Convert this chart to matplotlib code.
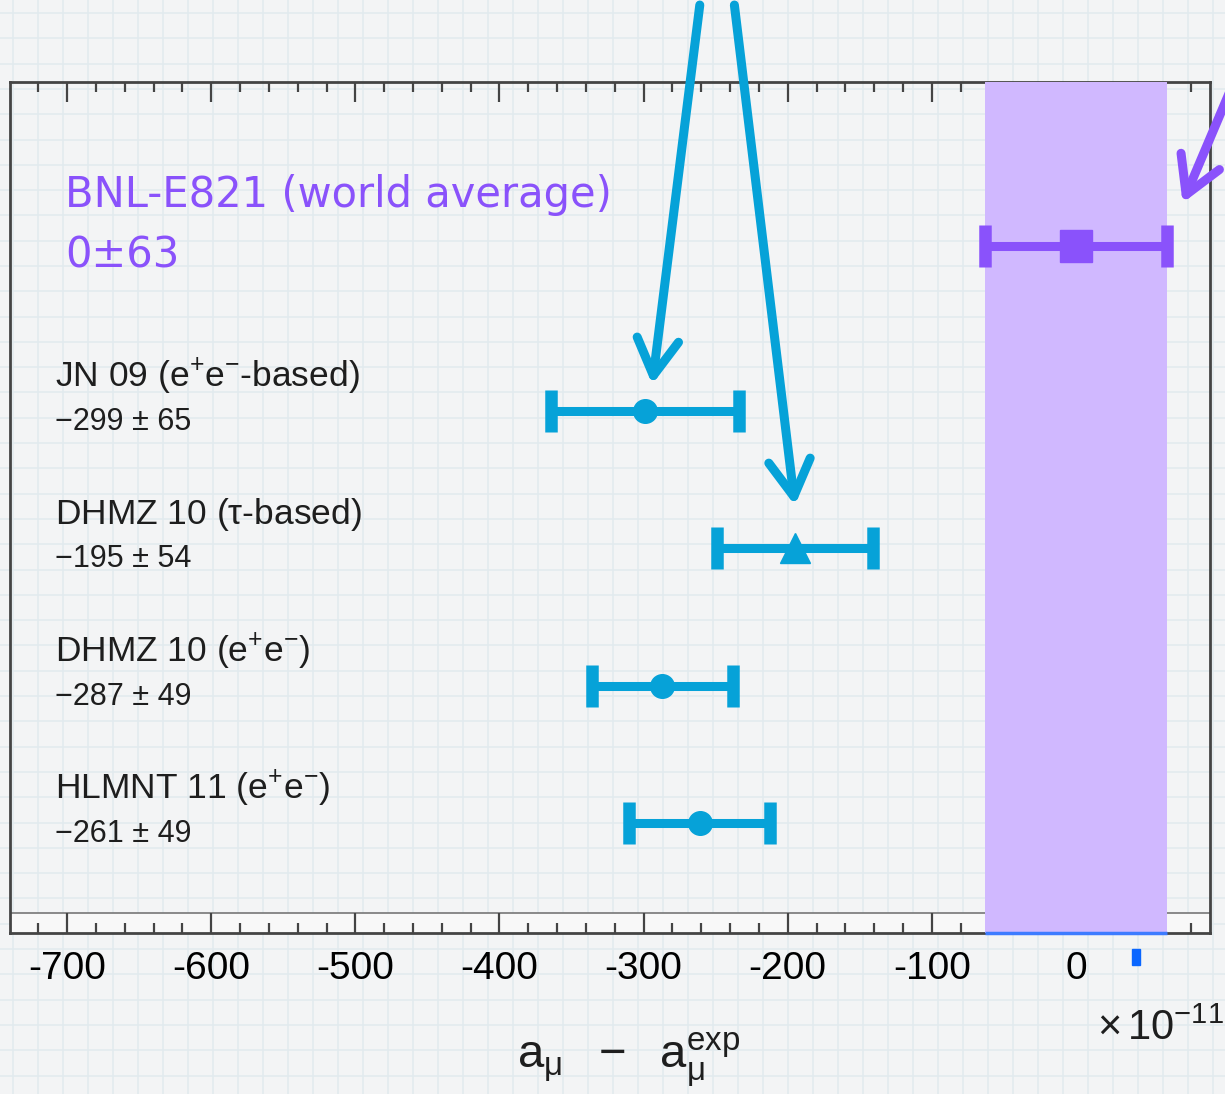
import numpy as np
import matplotlib
matplotlib.use('Agg')
import matplotlib.pyplot as plt
from matplotlib.patches import Rectangle
from matplotlib.ticker import MultipleLocator

plt.rcParams['font.family'] = ['Liberation Sans', 'DejaVu Sans']
plt.rcParams['mathtext.fontset'] = 'custom'
plt.rcParams['mathtext.rm'] = 'Liberation Sans'
plt.rcParams['mathtext.it'] = 'Liberation Sans'
plt.rcParams['mathtext.bf'] = 'Liberation Sans:bold'

# Data (units of 1e-11)
names = ['BNL-E821 (world average)', 'JN 09 (e$^{+}$e$^{-}$-based)',
         'DHMZ 10 ($\\tau$-based)', 'DHMZ 10 (e$^{+}$e$^{-}$)',
         'HLMNT 11 (e$^{+}$e$^{-}$)']
values = [0, -299, -195, -287, -261]
errors = [63, 65, 54, 49, 49]
value_labels = ['0\u00b163', '\u2212299 \u00b1 65', '\u2212195 \u00b1 54',
                '\u2212287 \u00b1 49', '\u2212261 \u00b1 49']
markers = ['s', 'o', '^', 'o', 'o']
rows = [5.2, 4, 3, 2, 1]

blue = '#06a2d8'
purple = '#8a52fb'
band = '#d0b8ff'

fig = plt.figure(figsize=(12.25, 10.94), dpi=100)
fig.patch.set_facecolor('#f3f4f5')

# grid paper background
bg = fig.add_axes([0, 0, 1, 1], zorder=-10)
bg.set_xlim(0, 1225)
bg.set_ylim(1094, 0)
bg.axis('off')
for gx in np.arange(13, 1225, 25):
    bg.axvline(gx, color='#e2eaee', lw=1.1)
for gy in np.arange(13, 1094, 25.3):
    bg.axhline(gy, color='#e2eaee', lw=1.1)

ax = fig.add_axes([10 / 1225, 161 / 1094, 1200 / 1225, 851 / 1094])
ax.set_facecolor('none')
ax.set_xlim(-739.6, 93)
ax.set_ylim(0.2, 6.39)

# world average band
lo, hi = values[0] - errors[0], values[0] + errors[0]
ax.axvspan(lo, hi, color=band, zorder=3, lw=0)
ax.plot([lo, hi], [0.2, 0.2], color='#3d7bff', lw=2.5, zorder=5, clip_on=False,
        solid_capstyle='butt')

# bottom strip
ax.axhspan(0.2, 0.345, color='#f8f8f8', zorder=0.5, lw=0)
ax.axhline(0.345, color='#777777', lw=1.2, zorder=0.6)

for i, (v, e, m, r) in enumerate(zip(values, errors, markers, rows)):
    c = purple if i == 0 else blue
    ms = 23 if m == 's' else (21 if m == '^' else 17)
    ax.errorbar(v, r, xerr=e, fmt=m, color=c, ms=ms, elinewidth=6.5,
                capsize=15, capthick=9, zorder=6, clip_on=False)

ytr = ax.get_yaxis_transform()
for i, (nm, vl, r) in enumerate(zip(names, value_labels, rows)):
    if i == 0:
        ax.text(0.0458, r + 0.37, nm, transform=ytr, ha='left', va='center',
                fontsize=30, color=purple, family='DejaVu Sans')
        ax.text(0.0458, r - 0.07, vl, transform=ytr, ha='left', va='center',
                fontsize=30, color=purple, family='DejaVu Sans')
    else:
        ax.text(0.0375, r + 0.245, nm, transform=ytr, ha='left', va='center',
                fontsize=25.5, color='#1e1e1e')
        ax.text(0.0375, r - 0.08, vl, transform=ytr, ha='left', va='center',
                fontsize=22, color='#1e1e1e')

# ticks
ax.xaxis.set_major_locator(MultipleLocator(100))
ax.xaxis.set_minor_locator(MultipleLocator(20))
ax.set_yticks([])
ax.tick_params(axis='x', which='both', direction='in', top=True, bottom=True,
               color='#444444', width=1.6)
ax.tick_params(axis='x', which='major', length=14.5, labelsize=28, pad=13)
ax.tick_params(axis='x', which='minor', length=7.5)
ax.set_xticks(np.arange(-700, 1, 100))
ax.set_xticklabels([str(t) for t in range(-700, 1, 100)])
for s in ax.spines.values():
    s.set_color('#444444')
    s.set_linewidth(2)

# hand-drawn arrows
hd = dict(arrowstyle='->,head_length=1.3,head_width=0.75', lw=6.5, color=blue,
          mutation_scale=20, shrinkA=0, shrinkB=0)
ax.annotate('', xy=(-294, 4.19), xytext=(-261, 6.95), arrowprops=hd,
            annotation_clip=False, zorder=7)
ax.annotate('', xy=(-195, 3.31), xytext=(-237, 6.95), arrowprops=hd,
            annotation_clip=False, zorder=7)
hp = dict(hd, color=purple)
ax.annotate('', xy=(74, 5.51), xytext=(112, 6.45), arrowprops=hp,
            annotation_clip=False, zorder=7)

# little blue cursor mark below the axis
ax.add_patch(Rectangle((39, -0.03), 5.5, 0.11, color='#0a66ff', clip_on=False, zorder=7))

fig.text(629 / 1225, 1 - 1068 / 1094,
         r'$\mathrm{a}_{\mu}\ \ -\ \ \mathrm{a}_{\mu}^{\mathrm{exp}}$',
         ha='center', va='baseline', fontsize=34, color='#1e1e1e')
fig.text(1097 / 1225, 1 - 1040 / 1094, r'$\times\,10^{-11}$',
         ha='left', va='baseline', fontsize=30, color='#1e1e1e')

fig.savefig('out.png', dpi=100, facecolor=fig.get_facecolor())
